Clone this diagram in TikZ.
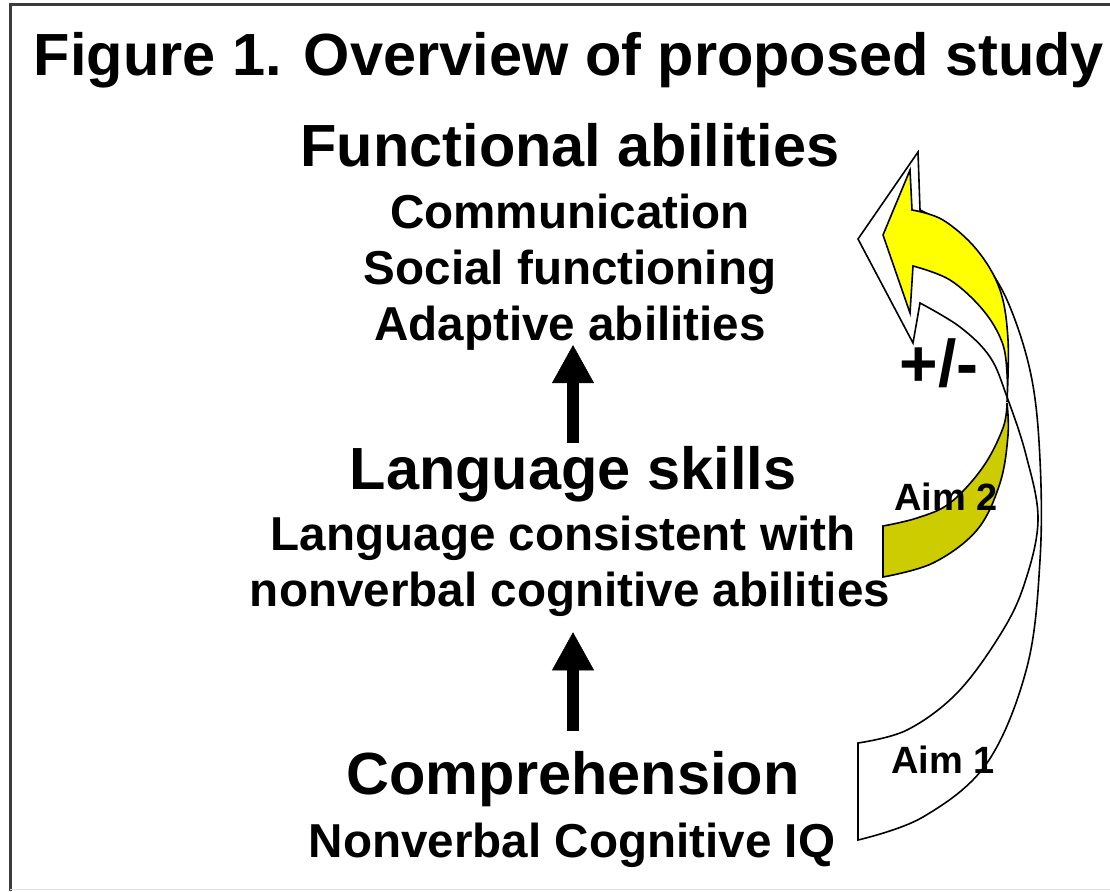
\documentclass[tikz,border=0pt]{standalone}
\usepackage{fontspec}
\setmainfont{Liberation Sans}
\usetikzlibrary{arrows.meta}
\definecolor{brightyellow}{RGB}{255,255,0}
\definecolor{darkyellow}{RGB}{204,204,0}
\definecolor{framegray}{RGB}{60,60,60}
\begin{document}
\begin{tikzpicture}[x=1pt,y=-1pt,
  big/.style={font=\bfseries\fontsize{59.5}{60}\selectfont, inner sep=0pt, anchor=base},
  small/.style={font=\bfseries\fontsize{47.6}{48}\selectfont, inner sep=0pt, anchor=base},
  aim/.style={font=\bfseries\fontsize{38}{40}\selectfont, inner sep=0pt, anchor=base},
  pm/.style={font=\bfseries\fontsize{66}{66}\selectfont, inner sep=0pt, anchor=base},
  upblock/.style={line width=12.5pt, -{Triangle[length=38pt,width=42pt,line width=0.5pt]}},
  bandedge/.style={draw=black, line width=1.6pt, line join=miter}]
\useasboundingbox (0,0) rectangle (1110,891);
% frame
\draw[framegray, line width=3pt] (10,891) -- (10,5) -- (1110,5);
\draw[black!12, line width=1pt] (10,889.5) -- (1110,889.5);

% Aim 1 band (white)
\path[bandedge, fill=white]
  (858,743) -- (858,840)
  -- plot[smooth, tension=0.6] coordinates {(858,840) (923,817) (987,763) (1027,667) (1040,560) (1040,460) (1031,375) (1007,300) (977,253) (950,227) (920,210)}
  -- (918,152) -- (858,239) -- (913,343) -- (920,303)
  -- plot[smooth, tension=0.6] coordinates {(920,303) (960,327) (990,357) (1007,397) (1026,455) (1038,520) (1024,585) (1000,635) (957,693) (907,730) (858,743)}
  -- cycle;

% Aim 2 band (yellow, front part)
\path[bandedge, fill=brightyellow]
  plot[smooth, tension=0.6] coordinates {(1007,402) (1008,340) (1000,290) (977,250) (943,220) (912,210)}
  -- (910,170) -- (883,235) -- (910,313) -- (913,266)
  -- plot[smooth, tension=0.6] coordinates {(913,266) (950,280) (983,310) (1002,342) (1007,373) (1007,402)}
  -- cycle;
% Aim 2 band (yellow, back part)
\path[bandedge, fill=darkyellow]
  plot[smooth, tension=0.6] coordinates {(1007,403) (1008,435) (1000,483) (977,530) (933,563) (883,577)}
  -- (883,526)
  -- plot[smooth, tension=0.6] coordinates {(883,526) (917,518) (950,503) (983,467) (1003,428) (1007,403)}
  -- cycle;

% texts
\node[big] (title) at (569,75) {Figure 1. Overview of proposed study};
\node[big] (func) at (570,166) {Functional abilities};
\node[small] (comm) at (570,228) {Communication};
\node[small] (social) at (570,284) {Social functioning};
\node[small] (adapt) at (570,340) {Adaptive abilities};
\node[big] (lang) at (573,489) {Language skills};
\node[small] (cons) at (563,550) {Language consistent with};
\node[small] (nonv) at (570,606) {nonverbal cognitive abilities};
\node[big] (comp) at (573,794) {Comprehension};
\node[small] (iq) at (572,857) {Nonverbal Cognitive IQ};

\node[pm] (pm) at (939,386) {+/-};
\node[aim] (aim2) at (946,510) {Aim 2};
\node[aim] (aim1) at (943,773) {Aim 1};

% block arrows
\draw[upblock] ([yshift=2.6pt]lang.north) -- ([yshift=5pt]lang.north |- adapt.south);
\draw[upblock] ([yshift=20pt]comp.north) -- ([yshift=-16pt]comp.north |- nonv.south);
\end{tikzpicture}
\end{document}
